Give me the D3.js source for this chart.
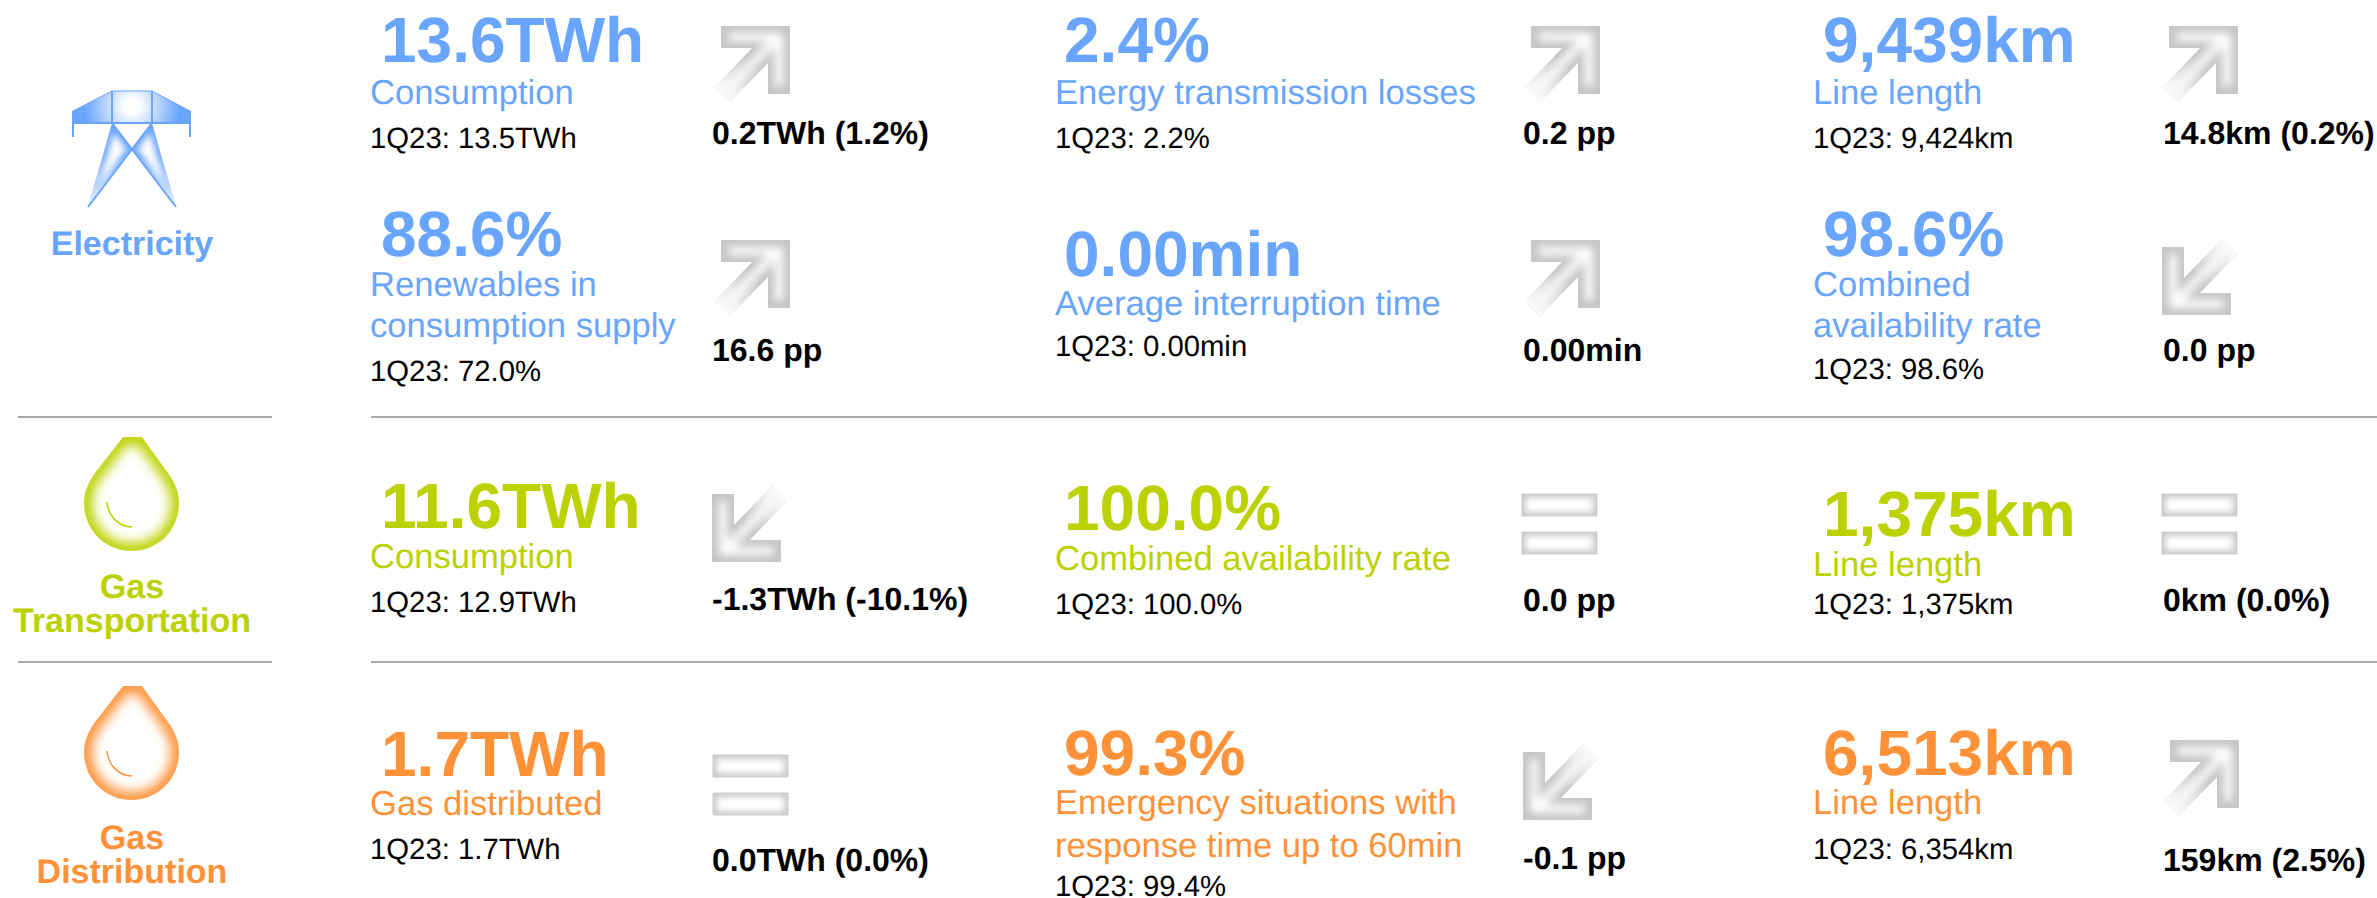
<!DOCTYPE html>
<html>
<head>
<meta charset="utf-8">
<script src="https://cdn.jsdelivr.net/npm/d3@7"></script>
<style>
  html, body { margin: 0; background: #fff; overflow: hidden; }
  text { font-family: "Liberation Sans", Arial, sans-serif; text-rendering: geometricPrecision; }
</style>
</head>
<body>
<div id="chart"></div>
<script>
// chart values, one entry per KPI, read left to right and top to bottom
const sections = ["Electricity", "Gas Transportation", "Gas Distribution"];
const kpiSection = [0, 0, 0, 0, 0, 0, 1, 1, 1, 2, 2, 2];
const kpiValues = ["13.6TWh", "2.4%", "9,439km", "88.6%", "0.00min", "98.6%", "11.6TWh", "100.0%", "1,375km", "1.7TWh", "99.3%", "6,513km"];
const kpiLabels = [
  ["Consumption"], ["Energy transmission losses"], ["Line length"],
  ["Renewables in", "consumption supply"], ["Average interruption time"], ["Combined", "availability rate"],
  ["Consumption"], ["Combined availability rate"], ["Line length"],
  ["Gas distributed"], ["Emergency situations with", "response time up to 60min"], ["Line length"],
];
const kpiPrior = ["1Q23: 13.5TWh", "1Q23: 2.2%", "1Q23: 9,424km", "1Q23: 72.0%", "1Q23: 0.00min", "1Q23: 98.6%", "1Q23: 12.9TWh", "1Q23: 100.0%", "1Q23: 1,375km", "1Q23: 1.7TWh", "1Q23: 99.4%", "1Q23: 6,354km"];
const kpiDelta = ["0.2TWh (1.2%)", "0.2 pp", "14.8km (0.2%)", "16.6 pp", "0.00min", "0.0 pp", "-1.3TWh (-10.1%)", "0.0 pp", "0km (0.0%)", "0.0TWh (0.0%)", "-0.1 pp", "159km (2.5%)"];
const kpiTrend = ["up", "up", "up", "up", "up", "down", "down", "flat", "flat", "flat", "down", "up"];

// layout, same order as the KPIs
const bigX = [381, 1064, 1823];
const labelX = [370, 1055, 1813];
const deltaX = [712, 1523, 2163];
const bigY = [62, 62, 62, 256, 276, 256, 528, 530, 536, 776, 775, 775];
const labelY = [104, 104, 104, 296, 315, 296, 568, 570, 576, 815, 814, 814];
const labelGap = [0, 0, 0, 41, 0, 41, 0, 0, 0, 0, 43, 0];
const priorY = [148, 148, 148, 381, 356, 379, 612, 614, 614, 859, 896, 859];
const deltaY = [144, 144, 144, 361, 361, 361, 610, 611, 611, 871, 869, 871];
const arrowX = [721, 1531, 2169, 721, 1531, 2162, 712, 1522, 2162, 713, 1523, 2170];
const arrowY = [26, 26, 26, 240, 240, 247, 494, 494, 494, 755, 752, 740];

const W = 2377, H = 898;
const color = d3.scaleOrdinal().domain(sections).range(["#69a5fd", "#bbd100", "#ff9238"]);
const gray = "#c4c4c4";

const svg = d3.select("#chart").append("svg").attr("width", W).attr("height", H);
const defs = svg.append("defs");
[["soft", 3], ["mid", 4.5], ["softer", 6]].forEach(([id, blur]) => {
  defs.append("filter").attr("id", id)
    .attr("x", "-30%").attr("y", "-30%").attr("width", "160%").attr("height", "160%")
    .append("feGaussianBlur").attr("stdDeviation", blur);
});

let clipId = 0;
// white shape with a blurred coloured rim, like the inner glow in the source
function glowShape(parent, d, col, rim, filter) {
  const id = "clip" + clipId++;
  defs.append("clipPath").attr("id", id).append("path").attr("d", d);
  const g = parent.append("g").attr("clip-path", `url(#${id})`);
  g.append("path").attr("d", d).attr("fill", "#fff");
  g.append("path").attr("d", d).attr("fill", "none")
    .attr("stroke", col).attr("stroke-width", rim).attr("filter", `url(#${filter})`);
  return g;
}

// arrow drawn pointing up-right, tail fades out
const tailFade = defs.append("linearGradient").attr("id", "tailFade")
  .attr("gradientUnits", "userSpaceOnUse")
  .attr("x1", 0).attr("y1", 70).attr("x2", 34).attr("y2", 38);
tailFade.append("stop").attr("offset", 0).attr("stop-color", "#fff").attr("stop-opacity", 1);
tailFade.append("stop").attr("offset", 1).attr("stop-color", "#fff").attr("stop-opacity", 0);

const arrowPath = "M0,0H69V68H47V37L9,76L-6,61L31,22H0Z";
const tailPath = "M-8,62L10,78L42,42L26,26Z";

function drawArrow(x, y, trend) {
  const g = svg.append("g").attr("transform", `translate(${x},${y})`);
  if (trend === "flat") {
    [0, 38].forEach((dy) => {
      const bar = `M0,${dy}H75V${dy + 22}H0Z`;
      glowShape(g, bar, gray, 7, "soft");
      g.append("path").attr("d", bar).attr("fill", "none").attr("stroke", gray).attr("stroke-width", 0.8);
    });
    return;
  }
  const a = g.append("g");
  if (trend === "down") a.attr("transform", "rotate(180,34.5,34)");
  const inner = glowShape(a, arrowPath, gray, 14, "mid");
  inner.append("path").attr("d", tailPath).attr("fill", "url(#tailFade)");
}

// section dividers
const dividerY = [417, 662];
[[18, 272], [371, W]].forEach(([x1, x2]) => {
  svg.selectAll(null).data(dividerY).join("line")
    .attr("x1", x1).attr("x2", x2).attr("y1", (d) => d).attr("y2", (d) => d)
    .attr("stroke", "#aaaaaa").attr("stroke-width", 2);
});

// pylon icon
function drawPylon() {
  const col = color("Electricity");
  const g = svg.append("g");
  const head = defs.append("radialGradient").attr("id", "headFill")
    .attr("gradientUnits", "userSpaceOnUse")
    .attr("cx", 132).attr("cy", 106).attr("r", 60);
  head.append("stop").attr("offset", 0.12).attr("stop-color", "#fff");
  head.append("stop").attr("offset", 0.8).attr("stop-color", col);
  g.append("path").attr("d", "M112,91H152L190,111V123H73V111Z")
    .attr("fill", "url(#headFill)").attr("stroke", col).attr("stroke-width", 1);
  const fade = defs.append("linearGradient").attr("id", "legFade")
    .attr("x1", 0).attr("y1", 0).attr("x2", 0).attr("y2", 1);
  fade.append("stop").attr("offset", 0.4).attr("stop-color", "#fff").attr("stop-opacity", 0);
  fade.append("stop").attr("offset", 1).attr("stop-color", "#fff").attr("stop-opacity", 0.9);
  ["M112,123L88,207L132,149Z", "M152,123L176,207L132,149Z"].forEach((d) => {
    const leg = glowShape(g, d, col, 9, "soft");
    leg.append("path").attr("d", d).attr("fill", "url(#legFade)");
  });
  g.append("path")
    .attr("d", "M112,91V123M152,91V123M112,123L176,207M152,123L88,207M73,111V137M190,111V137M73,123H190")
    .attr("fill", "none").attr("stroke", col).attr("stroke-width", 2);
}

// gas drop icon
function drawDrop(top, col) {
  const g = svg.append("g").attr("transform", `translate(0,${top})`);
  glowShape(g, "M123,0H142L168,36C175,46 179,55 179,66C179,93 158,114 131.5,114C105,114 84,93 84,66C84,55 88,46 95,36Z", col, 16, "softer");
  g.append("path").attr("d", "M107,65C108,78 118,90 132,90")
    .attr("fill", "none").attr("stroke", col).attr("stroke-width", 1.5);
}

drawPylon();
drawDrop(437, color("Gas Transportation"));
drawDrop(686, color("Gas Distribution"));

// section names under the icons
const sectionLines = [["Electricity"], ["Gas", "Transportation"], ["Gas", "Distribution"]];
const sectionY = [[255], [598, 632], [849, 883]];
sections.forEach((s, i) => {
  svg.selectAll(null).data(sectionLines[i]).join("text")
    .attr("x", 132).attr("y", (d, j) => sectionY[i][j])
    .attr("text-anchor", "middle").attr("font-size", 34).attr("font-weight", "bold")
    .attr("fill", color(s)).text((d) => d);
});

// KPI cells
kpiValues.forEach((value, i) => {
  const col = i % 3;
  const c = color(sections[kpiSection[i]]);
  svg.append("text").attr("x", bigX[col]).attr("y", bigY[i])
    .attr("font-size", 64).attr("font-weight", "bold").attr("fill", c).text(value);
  kpiLabels[i].forEach((line, j) => {
    svg.append("text").attr("x", labelX[col]).attr("y", labelY[i] + j * labelGap[i])
      .attr("font-size", 34.6).attr("fill", c).text(line);
  });
  svg.append("text").attr("x", labelX[col]).attr("y", priorY[i])
    .attr("font-size", 29.3).attr("fill", "#000").text(kpiPrior[i]);
  svg.append("text").attr("x", deltaX[col]).attr("y", deltaY[i])
    .attr("font-size", 32).attr("font-weight", "bold").attr("fill", "#000").text(kpiDelta[i]);
  drawArrow(arrowX[i], arrowY[i], kpiTrend[i]);
});
</script>
</body>
</html>
